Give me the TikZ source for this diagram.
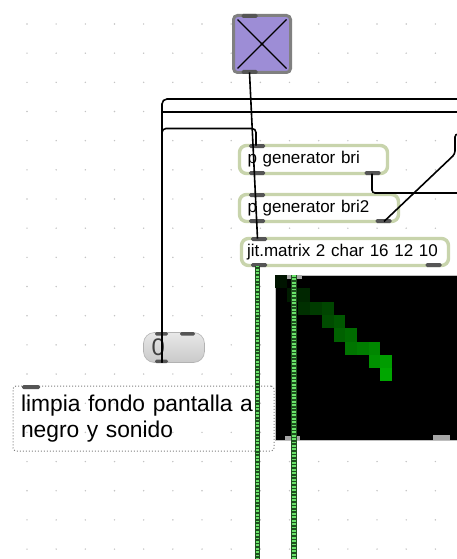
\documentclass[tikz,border=0pt]{standalone}
\usepackage{fontspec}
\setmainfont{Liberation Sans}
\usetikzlibrary{positioning}
\definecolor{boxgreen}{RGB}{200,212,172}
\definecolor{portgray}{RGB}{85,85,85}
\definecolor{bangpurple}{RGB}{157,141,214}
\definecolor{corddark}{RGB}{30,80,30}
\definecolor{cordlight}{RGB}{105,225,105}
\definecolor{griddot}{RGB}{195,195,195}

\tikzset{
	objbox/.style={draw=boxgreen,line width=3.4pt,rounded corners=7pt,fill=white,anchor=north west,
		inner xsep=8pt,inner ysep=0pt,align=left,minimum height=28pt,outer sep=0pt,
		font=\fontsize{17}{20}\selectfont},
	port/.style={fill=portgray,rounded corners=1.5pt},
	cord/.style={line width=1.6pt,black},
	sigcord/.style={line width=5.5pt,corddark},
	sigdash/.style={line width=3.6pt,cordlight,dash pattern=on 1.8pt off 1.6pt},
}

\begin{document}
\begin{tikzpicture}[x=1pt,y=-1pt]
	\useasboundingbox (0,0) rectangle (456,559);
	\fill[white] (0,0) rectangle (456,559);
	
	% draw grid
	\foreach \i in {0,...,14}
		\foreach \j in {0,...,18}
			\fill[griddot] ({27+29.17*\i},{24+29.17*\j}) circle (0.8pt);
	
	% draw comment
	\node[draw=gray,line width=1pt,dash pattern=on 1pt off 2pt,rounded corners=3pt,anchor=north west,
		minimum width=261pt,minimum height=65pt,text width=245pt,inner xsep=8pt,align=left,outer sep=0pt,
		font=\fontsize{22.8}{25.5}\selectfont] (note) at (13,386) {limpia fondo pantalla a\\negro y sonido};
	\fill[port] ([shift={(9,-1)}]note.north west) rectangle ++(18,4);
	
	% draw button
	\node[draw=gray,line width=3pt,fill=bangpurple,rounded corners=4pt,minimum size=57pt,
		anchor=north west,inner sep=0pt,outer sep=0pt] (bang) at (233.5,15.5) {};
	\draw[line width=1.3pt] ([shift={(4,4)}]bang.north west) -- ([shift={(-4,-4)}]bang.south east);
	\draw[line width=1.3pt] ([shift={(-4,4)}]bang.north east) -- ([shift={(4,-4)}]bang.south west);
	\fill (bang.center) circle (1.6pt);
	\fill[port] ([shift={(8,-1.5)}]bang.north west) rectangle ++(16,4);
	\fill[port] ([shift={(8,1.5)}]bang.south west) rectangle ++(16,-4);
	
	% draw objects
	\node[objbox,text width=132pt] (pgen) at (239.5,145.5) {p generator bri};
	\node[objbox,text width=143pt,minimum height=27pt] (pgentwo) at (239.5,194.5) {p generator bri2};
	\node[objbox,text width=196pt,inner xsep=5.5pt,minimum height=27pt] (matrix) at (241.5,238.5) {jit.matrix 2 char 16 12 10};
	\foreach \n in {pgen,pgentwo,matrix}{
		\fill[port] ([shift={(9.5,-1.5)}]\n.north west) rectangle ++(16,4);
		\fill[port] ([shift={(9.5,1.5)}]\n.south west) rectangle ++(16,-4);
		\fill[port] ([shift={(-7,1.5)}]\n.south east) rectangle ++(-16,-4);
	}
	
	% draw message
	\node[draw=gray!60,line width=0.6pt,rounded corners=11pt,top color=gray!18,bottom color=gray!42,
		anchor=north west,minimum width=61pt,minimum height=30pt,text width=45pt,inner xsep=8pt,
		align=left,outer sep=0pt,text=black!75,font=\fontsize{24}{26}\selectfont] (msg) at (143.5,332.5) {0};
	\fill[port] ([shift={(11.5,-0.5)}]msg.north west) rectangle ++(13,3.5);
	\fill[port] ([shift={(36.5,-0.5)}]msg.north west) rectangle ++(15,3.5);
	\fill[port] ([shift={(11.5,0.5)}]msg.south west) rectangle ++(13,-3.5);
	
	% draw window
	\node[fill=black,draw=gray!50,line width=0.6pt,anchor=north west,minimum width=187pt,minimum height=165pt,
		inner sep=0pt,outer sep=0pt] (pwin) at (275,275) {};
	\foreach \c/\r [count=\k from 0] in {0/0,1/1,2/1,2/2,3/2,4/2,4/3,5/3,5/4,6/4,6/5,7/5,8/5,8/6,9/6,9/7}{
		\pgfmathtruncatemacro\lvl{8+3.8*\k}
		\fill[green!\lvl!black] ([shift={({11.7*\c},{13.3*\r})}]pwin.north west) rectangle ++(11.7,13.3);
	}
	\fill[gray!70] ([shift={(12,0)}]pwin.north west) rectangle ++(15,4);
	\fill[gray!70] ([shift={(10,0)}]pwin.south west) rectangle ++(15,-4);
	\fill[gray!70] ([shift={(-12,0)}]pwin.south east) rectangle ++(-17,-5);
	
	% free ends of cords
	\coordinate (offa) at (460,99);
	\coordinate (offb) at (460,112);
	\coordinate (offc) at (460,193);
	\coordinate (offd) at (460,134);
	\coordinate (offe) at (257.5,565);
	\coordinate (offf) at (294,565);
	\coordinate (bendb) at (162,112);
	
	% draw cords
	\draw[cord,rounded corners=5pt] ([shift={(18.5,0)}]msg.south west) |- (offa);
	\draw[cord,line width=2.8pt] (bendb) -- (offb);
	\draw[cord,rounded corners=4pt] ([shift={(18.5,0)}]msg.south west) -- ++(0,-234) -| ([shift={(16.5,0)}]pgen.north west);
	\draw[cord] ([shift={(16,0)}]bang.south west) -- ([shift={(16,0)}]matrix.north west);
	\draw[cord,rounded corners=3pt] ([shift={(-15.5,0)}]pgen.south east) |- (offc);
	\draw[cord,rounded corners=3pt] ([shift={(-14.5,0)}]pgentwo.south east) -- (455,154) |- (offd);
	
	% draw signal cords
	\draw[sigcord] ([shift={(16,0)}]matrix.south west) -- (offe);
	\draw[sigdash] ([shift={(16,0)}]matrix.south west) -- (offe);
	\draw[sigcord] ([shift={(19,0)}]pwin.north west) -- (offf);
	\draw[sigdash] ([shift={(19,0)}]pwin.north west) -- (offf);
\end{tikzpicture}
\end{document}
